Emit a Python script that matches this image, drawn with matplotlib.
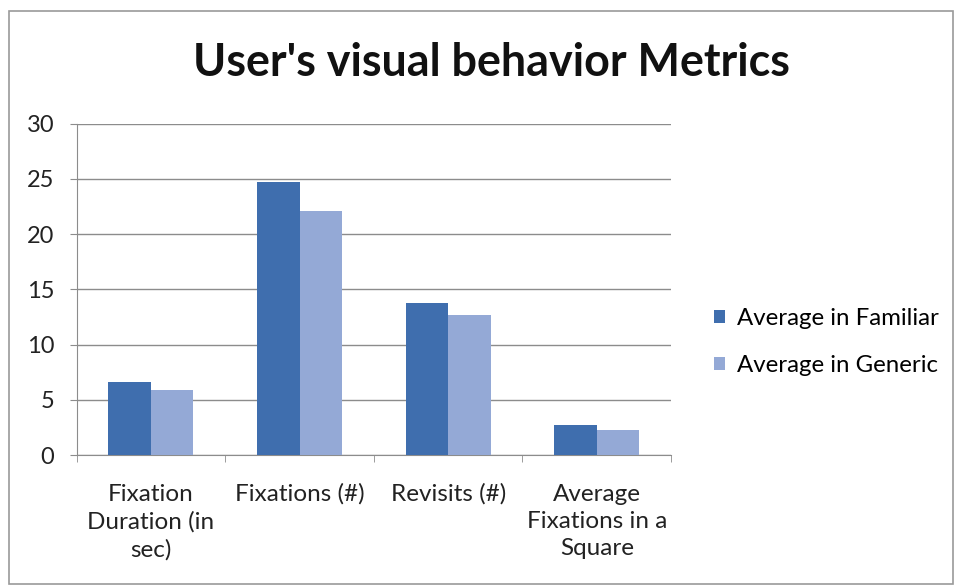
import numpy as np
import matplotlib.pyplot as plt
from matplotlib.patches import Rectangle

# categorias e valores das duas series
categorias = ['Fixation\nDuration (in\nsec)', 'Fixations (#)', 'Revisits (#)',
              'Average\nFixations in a\nSquare']
familiar = [6.6, 24.7, 13.8, 2.7]
generico = [5.9, 22.1, 12.7, 2.3]
series = ['Average in Familiar', 'Average in Generic']
yticks = [0, 5, 10, 15, 20, 25, 30]

cor_escura = '#3f6eae'
cor_clara = '#94a9d6'
cinza = '#8c8c8c'

plt.rcParams['font.family'] = ['Lato', 'DejaVu Sans']

fig = plt.figure(figsize=(9.6, 5.86), dpi=100)
ax = fig.add_axes([0.0798, 0.2235, 0.6192, 0.5655])

x = np.arange(len(categorias))
largura = 0.286
b1 = ax.bar(x - largura / 2, familiar, largura, color=cor_escura, zorder=3)
b2 = ax.bar(x + largura / 2, generico, largura, color=cor_clara, zorder=3)

ax.set_xlim(-0.5, len(categorias) - 0.5)
ax.set_ylim(0, 30)
ax.set_yticks(yticks)
ax.set_yticklabels([str(v) for v in yticks], fontsize=17, color='#222222')
ax.yaxis.grid(True, color=cinza, linewidth=1, zorder=0)
ax.tick_params(axis='y', length=5, color=cinza, pad=11)

ax.set_xticks(x)
ax.set_xticklabels(categorias, fontsize=17.5, color='#222222', linespacing=1.38)
ax.tick_params(axis='x', which='major', length=0, pad=20.5)
ax.set_xticks(np.arange(-0.5, len(categorias)), minor=True)
ax.tick_params(axis='x', which='minor', length=5, color=cinza, direction='out')

for lado in ['top', 'right']:
    ax.spines[lado].set_visible(False)
for lado in ['left', 'bottom']:
    ax.spines[lado].set_color(cinza)

# titulo do grafico
fig.text(0.512, 0.892, "User's visual behavior Metrics", ha='center', va='center',
         fontsize=32.3, fontweight='bold', color='#111111')

# legenda a direita
fig.legend([b1, b2], series, loc='center left', bbox_to_anchor=(0.721, 0.416),
           frameon=False, fontsize=17.3, handlelength=0.45, handleheight=0.45,
           handletextpad=0.5, labelspacing=1.08)

# moldura em volta do grafico
fig.patches.append(Rectangle((9 / 960, 2 / 586), 944 / 960, 573 / 586,
                             transform=fig.transFigure, fill=False,
                             edgecolor='#9a9a9a', linewidth=1.2))

fig.savefig('out.png', dpi=100)
